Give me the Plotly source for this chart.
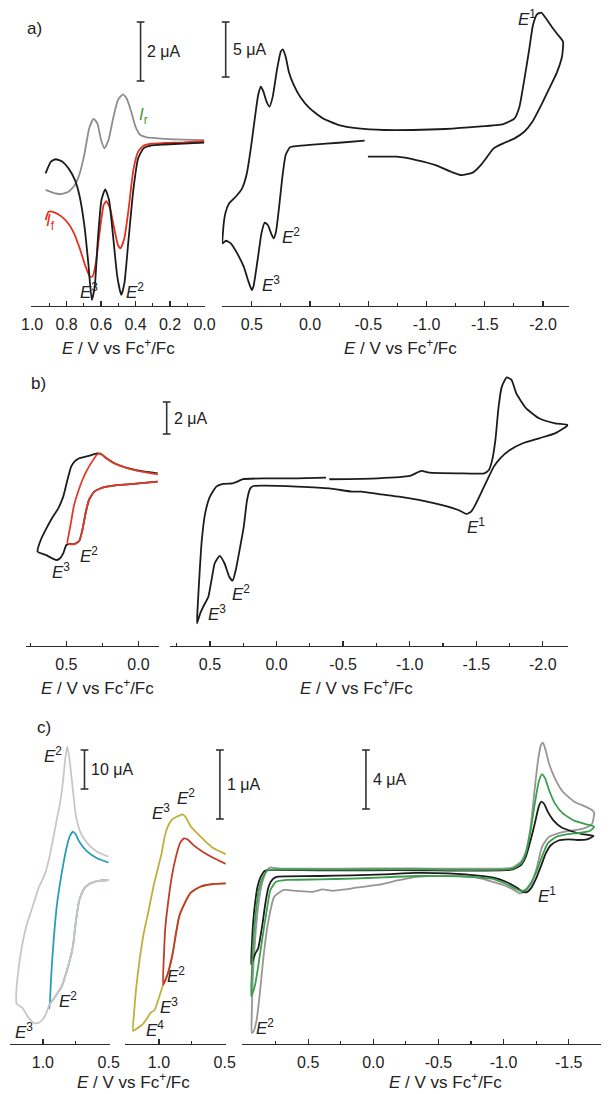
import plotly.graph_objects as go

W, H = 611, 1094
FONT = "Liberation Sans, Arial, Helvetica, sans-serif"

# ------------------------------------------------------------------ data
# Panel a, left (DPV): potential E (V vs Fc+/Fc), current I (uA)
aL_E_gray = [0.922, 0.881, 0.835, 0.789, 0.752, 0.724, 0.696, 0.669, 0.644, 0.622, 0.600, 0.581,
             0.557, 0.530, 0.502, 0.474, 0.452, 0.428, 0.400, 0.372, 0.335, 0.270, 0.159, 0.002]
aL_I_gray = [-1.59, -1.68, -1.73, -1.65, -1.42, -1.03, -0.35, 0.50, 0.82, 0.67, 0.10, -0.18,
             0.10, 0.84, 1.46, 1.65, 1.51, 1.12, 0.55, 0.27, 0.19, 0.16, 0.12, 0.10]
aL_E_black = [0.922, 0.891, 0.863, 0.826, 0.789, 0.752, 0.724, 0.696, 0.674, 0.654, 0.637, 0.619, 0.598,
              0.576, 0.554, 0.530, 0.506, 0.483, 0.465, 0.441, 0.413, 0.385, 0.354, 0.307, 0.233, 0.122, 0.002]
aL_I_black = [-1.03, -0.63, -0.55, -0.63, -0.86, -1.25, -1.82, -2.84, -4.08, -5.32, -4.87, -3.29, -1.93,
              -1.57, -1.93, -3.18, -4.53, -5.15, -4.76, -3.29, -1.59, -0.52, -0.18, -0.08, -0.05, -0.02, 0.01]
aL_E_red = [0.922, 0.904, 0.872, 0.835, 0.798, 0.761, 0.724, 0.693, 0.665, 0.650, 0.631, 0.607, 0.585,
            0.570, 0.548, 0.526, 0.502, 0.487, 0.465, 0.441, 0.413, 0.385, 0.354, 0.307, 0.233, 0.122, 0.002]
aL_I_red = [-2.61, -2.33, -2.35, -2.47, -2.67, -3.01, -3.57, -4.14, -4.53, -4.53, -4.08, -2.95, -2.10,
            -1.97, -2.21, -2.84, -3.46, -3.57, -3.23, -2.27, -0.92, -0.29, -0.09, -0.02, 0.00, 0.02, 0.06]

# Panel a, right (CV)
aR_E = [-0.469, -0.248, -0.026, 0.112, 0.173, 0.209, 0.237, 0.265, 0.292, 0.312,
        0.334, 0.362, 0.389, 0.417, 0.450, 0.486, 0.500, 0.528, 0.569, 0.625,
        0.680, 0.722, 0.749, 0.746, 0.727, 0.694, 0.638, 0.583, 0.542, 0.506,
        0.472, 0.445, 0.422, 0.400, 0.373, 0.348, 0.320, 0.284, 0.251, 0.234,
        0.209, 0.182, 0.140, 0.085, 0.002, -0.109, -0.248, -0.414, -0.635, -0.884,
        -1.161, -1.438, -1.659, -1.756, -1.798, -1.839, -1.881, -1.914, -1.950, -1.986,
        -2.025, -2.075, -2.130, -2.172, -2.163, -2.116, -2.047, -1.978, -1.909, -1.839,
        -1.756, -1.659, -1.576, -1.521, -1.466, -1.396, -1.300, -1.216, -1.078, -0.912,
        -0.746, -0.497]
aR_I = [0.55, 0.36, 0.18, 0.06, -0.06, -0.76, -2.73, -5.45, -7.73, -8.33,
        -7.88, -7.12, -6.91, -7.88, -10.30, -12.73, -13.03, -12.27, -10.91, -9.70,
        -8.79, -8.55, -8.79, -7.58, -6.06, -5.15, -4.55, -3.79, -2.42, 0.0,
        2.73, 4.70, 5.45, 5.00, 4.09, 3.64, 4.55, 6.97, 8.64, 8.85,
        8.18, 6.82, 5.61, 4.55, 3.48, 2.58, 1.97, 1.67, 1.52, 1.52,
        1.61, 1.82, 2.06, 2.58, 3.64, 6.06, 8.79, 11.06, 12.06, 12.18,
        11.67, 10.91, 10.15, 9.55, 8.18, 6.67, 5.15, 3.64, 2.27, 1.36,
        0.76, 0.30, -0.15, -0.91, -1.67, -2.36, -2.58, -2.30, -1.67, -1.21,
        -0.91, -0.91]

# Panel b, left
bL_E_black = [-0.133, 0.0, 0.133, 0.244, 0.307, 0.344, 0.367, 0.389, 0.411, 0.444, 0.478, 0.5,
              0.522, 0.544, 0.567, 0.6, 0.644, 0.7, 0.678, 0.644, 0.6, 0.556, 0.522, 0.493,
              0.467, 0.444, 0.411, 0.367, 0.322, 0.284, 0.256, 0.222, 0.156, 0.067, -0.044, -0.133]
bL_I_black = [-0.52, -0.63, -0.73, -0.88, -1.15, -1.67, -2.50, -3.54, -4.23, -4.42, -4.42, -4.48,
              -5.00, -5.31, -5.42, -5.31, -5.10, -4.90, -4.17, -3.54, -2.81, -2.19, -1.46, -0.42,
              0.42, 0.73, 0.94, 1.04, 1.15, 1.25, 1.19, 0.94, 0.58, 0.31, 0.10, 0.0]
bL_E_red = [-0.133, 0.0, 0.133, 0.244, 0.307, 0.344, 0.367, 0.389, 0.411, 0.444, 0.478, 0.493, 0.482,
            0.467, 0.449, 0.422, 0.389, 0.356, 0.322, 0.289, 0.267, 0.233, 0.178, 0.089, -0.022, -0.133]
bL_I_red = [-0.52, -0.63, -0.73, -0.88, -1.15, -1.67, -2.50, -3.54, -4.23, -4.42, -4.42, -4.38, -3.75,
            -3.02, -2.08, -1.25, -0.42, 0.21, 0.73, 1.15, 1.25, 1.0, 0.67, 0.35, 0.10, -0.06]

# Panel b, right
bR_E = [-0.396, -0.760, -1.002, -1.087, -1.147, -1.365, -1.559, -1.595, -1.620, -1.644,
        -1.668, -1.692, -1.729, -1.765, -1.801, -1.874, -1.971, -2.092, -2.189, -2.092,
        -1.971, -1.850, -1.753, -1.680, -1.632, -1.583, -1.547, -1.499, -1.462, -1.426,
        -1.365, -1.244, -1.002, -0.760, -0.639, -0.566, -0.396, -0.154, 0.088, 0.173,
        0.197, 0.221, 0.246, 0.282, 0.306, 0.330, 0.355, 0.391, 0.427, 0.464,
        0.488, 0.512, 0.544, 0.573, 0.597, 0.592, 0.578, 0.561, 0.536, 0.5,
        0.452, 0.403, 0.330, 0.294, 0.258, 0.088, -0.154, -0.372]
bR_I = [-0.06, 0.0, 0.15, 0.46, 0.35, 0.31, 0.31, 0.52, 1.15, 2.40,
        4.48, 5.73, 6.31, 6.15, 5.31, 4.38, 3.75, 3.44, 3.33, 2.81,
        2.50, 2.19, 1.77, 1.25, 0.73, -0.10, -0.73, -1.56, -2.08, -2.23,
        -1.98, -1.67, -1.25, -0.98, -0.83, -0.83, -0.63, -0.52, -0.46, -0.48,
        -0.63, -1.35, -3.02, -4.69, -5.73, -6.40, -6.15, -5.31, -4.85, -5.31,
        -6.35, -7.40, -7.92, -8.44, -9.06, -8.02, -5.94, -3.85, -2.19, -1.15,
        -0.52, -0.35, -0.31, -0.21, -0.06, 0.0, 0.0, 0.04]

# Panel c, left
cL_E_gray = [0.502, 0.564, 0.637, 0.686, 0.723, 0.748, 0.772, 0.809, 0.858, 0.907, 0.951, 0.980,
             1.005, 1.029, 1.066, 1.115, 1.152, 1.201, 1.201, 1.189, 1.164, 1.127, 1.078, 1.029,
             0.993, 0.968, 0.944, 0.919, 0.895, 0.870, 0.846, 0.828, 0.814, 0.797, 0.772, 0.748,
             0.711, 0.662, 0.588, 0.502]
cL_I_gray = [0.0, -0.17, -0.85, -2.14, -5.13, -10.26, -17.09, -22.22, -27.35, -29.91, -32.05, -34.62,
             -35.90, -36.58, -36.75, -35.04, -32.91, -31.62, -28.21, -23.93, -17.95, -11.97, -6.84, -1.71,
             0.85, 3.42, 6.84, 11.11, 15.38, 19.66, 25.64, 31.62, 34.19, 30.77, 23.08, 16.24,
             11.97, 9.40, 7.26, 5.98]
cL_E_teal = [0.502, 0.564, 0.637, 0.686, 0.723, 0.748, 0.772, 0.809, 0.858, 0.907, 0.951,
             0.949, 0.941, 0.931, 0.914, 0.895, 0.870, 0.846, 0.821, 0.797, 0.772, 0.752, 0.723,
             0.662, 0.588, 0.502]
cL_I_teal = [0.0, -0.17, -0.85, -2.14, -5.13, -10.26, -17.09, -22.22, -27.35, -29.91, -32.05,
             -32.91, -27.35, -21.37, -13.68, -6.84, -0.85, 3.85, 8.12, 11.11, 12.39, 11.79, 9.83,
             7.26, 5.56, 4.44]

# Panel c, middle
cM_E_olive = [0.490, 0.588, 0.686, 0.760, 0.809, 0.846, 0.870, 0.895, 0.931, 0.968, 1.005, 1.034,
              1.066, 1.091, 1.127, 1.164, 1.196, 1.189, 1.172, 1.147, 1.115, 1.078, 1.042, 1.005,
              0.980, 0.956, 0.931, 0.902, 0.870, 0.846, 0.821, 0.797, 0.760, 0.686, 0.588, 0.490]
cM_I_olive = [0.0, -0.01, -0.05, -0.14, -0.31, -0.48, -0.72, -1.01, -1.30, -1.47, -1.69, -1.84,
              -1.88, -1.96, -2.05, -2.10, -2.14, -1.88, -1.50, -1.11, -0.72, -0.39, -0.05, 0.24,
              0.43, 0.68, 0.83, 0.92, 0.96, 0.98, 1.00, 0.96, 0.83, 0.68, 0.51, 0.42]
cM_E_red = [0.490, 0.588, 0.686, 0.760, 0.809, 0.846, 0.870, 0.895, 0.931, 0.968,
            0.961, 0.951, 0.931, 0.902, 0.870, 0.838, 0.809, 0.779, 0.735, 0.662, 0.588, 0.490]
cM_I_red = [0.0, -0.01, -0.05, -0.14, -0.31, -0.48, -0.72, -1.01, -1.30, -1.47,
            -1.01, -0.63, -0.29, 0.10, 0.39, 0.59, 0.65, 0.63, 0.55, 0.45, 0.37, 0.28]

# Panel c, right
cR_E_gray = [-0.329, -0.577, -0.824, -1.022, -1.072, -1.134, -1.171, -1.208, -1.238, -1.265, -1.287,
             -1.302, -1.319, -1.349, -1.394, -1.455, -1.542, -1.629, -1.678, -1.696,
             -1.678, -1.617, -1.517, -1.418, -1.344, -1.295, -1.257, -1.215, -1.171, -1.126, -1.072,
             -0.998, -0.923, -0.824, -0.700, -0.500, -0.329, -0.205, -0.032, 0.116, 0.215, 0.314,
             0.389, 0.463, 0.587, 0.686, 0.760, 0.809, 0.846, 0.871, 0.896, 0.921, 0.933,
             0.933, 0.926, 0.908, 0.884, 0.854, 0.822, 0.790, 0.735, 0.413, 0.042, -0.329]
cR_I_gray = [0.22, 0.20, 0.20, 0.22, 0.29, 0.68, 1.36, 3.05, 5.54, 7.57, 8.59,
             8.75, 8.36, 7.34, 6.33, 5.42, 4.75, 4.41, 4.18, 4.00,
             3.23, 2.94, 2.78, 2.60, 2.33, 1.69, 0.34, -0.79, -1.29, -1.47, -1.20,
             -0.90, -0.70, -0.45, -0.30, -0.28, -0.35, -0.56, -0.90, -1.06, -1.20, -1.29,
             -1.20, -1.36, -1.30, -1.24, -1.69, -3.50, -5.99, -8.25, -10.06, -10.85, -10.92,
             -9.60, -7.34, -4.63, -2.37, -0.79, 0.0, 0.29, 0.23, 0.20, 0.22, 0.22]
cR_E_black = [-0.379, -0.577, -0.824, -1.022, -1.072, -1.134, -1.171, -1.208, -1.240, -1.270, -1.290,
              -1.312, -1.339, -1.381, -1.443, -1.517, -1.604, -1.691,
              -1.641, -1.567, -1.493, -1.418, -1.364, -1.324, -1.290, -1.250, -1.210, -1.176, -1.146,
              -1.097, -1.022, -0.923, -0.824, -0.577, -0.329, -0.082, 0.166, 0.413, 0.661,
              0.735, 0.772, 0.804, 0.829, 0.854, 0.884, 0.908, 0.928, 0.938,
              0.933, 0.923, 0.908, 0.889, 0.864, 0.834, 0.797, 0.735, 0.413, 0.042, -0.379]
cR_I_black = [0.10, 0.08, 0.08, 0.11, 0.16, 0.45, 1.02, 2.15, 3.28, 4.41, 4.75,
              4.59, 4.07, 3.50, 3.01, 2.76, 2.55, 2.42,
              2.19, 2.15, 2.19, 2.10, 1.81, 1.24, 0.45, -0.45, -1.13, -1.40, -1.36,
              -1.06, -0.70, -0.40, -0.28, -0.12, -0.08, -0.18, -0.25, -0.29, -0.32,
              -0.34, -0.50, -1.02, -2.15, -3.73, -5.20, -5.58, -6.10, -6.28,
              -5.08, -3.50, -2.15, -1.02, -0.34, 0.05, 0.12, 0.12, 0.10, 0.10, 0.10]
cR_E_green = [-0.379, -0.577, -0.824, -1.022, -1.072, -1.134, -1.171, -1.208, -1.240, -1.270, -1.295,
              -1.319, -1.349, -1.394, -1.455, -1.542, -1.629, -1.696,
              -1.666, -1.592, -1.493, -1.406, -1.339, -1.295, -1.257, -1.215, -1.171, -1.134, -1.072,
              -0.998, -0.923, -0.824, -0.577, -0.329, -0.082, 0.166, 0.413, 0.661,
              0.747, 0.790, 0.822, 0.854, 0.884, 0.908, 0.928, 0.938,
              0.933, 0.921, 0.903, 0.879, 0.846, 0.809, 0.760, 0.413, 0.042, -0.379]
cR_I_green = [0.16, 0.12, 0.12, 0.16, 0.23, 0.56, 1.24, 2.82, 4.63, 6.10, 6.60,
              6.33, 5.54, 4.63, 3.95, 3.46, 3.23, 3.05,
              2.78, 2.64, 2.55, 2.37, 1.92, 1.02, 0.11, -0.68, -1.20, -1.31, -1.06,
              -0.75, -0.50, -0.40, -0.30, -0.29, -0.38, -0.47, -0.52, -0.56,
              -0.68, -1.24, -2.82, -4.63, -6.44, -7.68, -8.25, -8.43,
              -6.89, -4.63, -2.82, -1.24, -0.34, 0.11, 0.16, 0.14, 0.15, 0.16]

# Tick labels
aL_ticks = [1.0, 0.8, 0.6, 0.4, 0.2, 0.0]
aL_ticklabels = ["1.0", "0.8", "0.6", "0.4", "0.2", "0.0"]
aR_ticks = [0.5, 0.0, -0.5, -1.0, -1.5, -2.0]
aR_ticklabels = ["0.5", "0.0", "-0.5", "-1.0", "-1.5", "-2.0"]
bL_ticks = [0.5, 0.0]
bL_ticklabels = ["0.5", "0.0"]
bR_ticks = [0.5, 0.0, -0.5, -1.0, -1.5, -2.0]
bR_ticklabels = ["0.5", "0.0", "-0.5", "-1.0", "-1.5", "-2.0"]
cL_ticks = [1.0, 0.5]
cL_ticklabels = ["1.0", "0.5"]
cM_ticks = [1.0, 0.5]
cM_ticklabels = ["1.0", "0.5"]
cR_ticks = [0.5, 0.0, -0.5, -1.0, -1.5]
cR_ticklabels = ["0.5", "0.0", "-0.5", "-1.0", "-1.5"]

# Scale bars (uA) and their labels
scale_values = [2, 5, 2, 10, 1, 4]
scale_labels = ["2 μA", "5 μA", "2 μA", "10 μA", "1 μA", "4 μA"]

# ------------------------------------------------------------------ layout (pixels)
# x0, x1: axis extent; rng: potential range; ay: axis line y; p0: pixel of zero current; k: px per uA
PANELS = [
    dict(x0=22, x1=202, rng=(1.005, -0.005), ay=306, p0=143.0, k=29.5,
         tv=aL_ticks, tt=aL_ticklabels, minor=0.1),
    dict(x0=219, x1=578, rng=(0.757, -2.224), ay=306, p0=146.7, k=11.0,
         tv=aR_ticks, tt=aR_ticklabels, minor=0.25),
    dict(x0=17, x1=154, rng=(0.777, -0.142), ay=646, p0=473.3, k=16.0,
         tv=bL_ticks, tt=bL_ticklabels, minor=0.25),
    dict(x0=165, x1=577, rng=(0.803, -2.19), ay=646, p0=478.3, k=16.0,
         tv=bR_ticks, tt=bR_ticklabels, minor=0.25),
    dict(x0=0, x1=103, rng=(1.25, 0.4926), ay=1044, p0=880.0, k=3.9,
         tv=cL_ticks, tt=cL_ticklabels, minor=0.25),
    dict(x0=119, x1=223, rng=(1.257, 0.4926), ay=1044, p0=883.3, k=69.0,
         tv=cM_ticks, tt=cM_ticklabels, minor=0.25),
    dict(x0=240, x1=611, rng=(1.007, -1.748), ay=1044, p0=871.7, k=14.75,
         tv=cR_ticks, tt=cR_ticklabels, minor=0.25),
]

BLACK = "#1c1c1c"
AXC = "#2a2a2a"
LW = 1.8


def ref(i):
    return ("x" if i == 1 else f"x{i}"), ("y" if i == 1 else f"y{i}")


fig = go.Figure()

CURVES = [
    (1, aL_E_gray, aL_I_gray, "#8e8e8e"),
    (1, aL_E_red, aL_I_red, "#e2311f"),
    (1, aL_E_black, aL_I_black, BLACK),
    (2, aR_E, aR_I, BLACK),
    (3, bL_E_black, bL_I_black, BLACK),
    (3, bL_E_red, bL_I_red, "#e23a2a"),
    (4, bR_E, bR_I, BLACK),
    (5, cL_E_teal, cL_I_teal, "#2a9fb4"),
    (5, cL_E_gray, cL_I_gray, "#cdc5c5"),
    (6, cM_E_olive, cM_I_olive, "#beb13a"),
    (6, cM_E_red, cM_I_red, "#c23a28"),
    (7, cR_E_gray, cR_I_gray, "#9a9494"),
    (7, cR_E_black, cR_I_black, BLACK),
    (7, cR_E_green, cR_I_green, "#3b9e4e"),
]
for i, xs, ys, col in CURVES:
    xr, yr = ref(i)
    fig.add_trace(go.Scatter(x=xs, y=ys, xaxis=xr, yaxis=yr, mode="lines",
                             line=dict(color=col, width=LW, shape="spline", smoothing=0.5),
                             hoverinfo="skip", showlegend=False))

layout = dict(width=W, height=H, margin=dict(l=0, r=0, t=0, b=0),
              paper_bgcolor="white", plot_bgcolor="rgba(0,0,0,0)",
              font=dict(family=FONT, color="#222"), showlegend=False)

for i, p in enumerate(PANELS, start=1):
    xk = "xaxis" if i == 1 else f"xaxis{i}"
    yk = "yaxis" if i == 1 else f"yaxis{i}"
    xr, yr = ref(i)
    layout[xk] = dict(domain=[p["x0"] / W, p["x1"] / W], range=list(p["rng"]),
                      anchor="free", position=1 - p["ay"] / H,
                      showline=True, linecolor=AXC, linewidth=1.4,
                      ticks="inside", ticklen=5, tickwidth=1.3, tickcolor=AXC,
                      tickmode="array", tickvals=p["tv"], ticktext=p["tt"],
                      tickfont=dict(size=16, color="#222", family=FONT),
                      ticklabelstandoff=3,
                      showgrid=False, zeroline=False, fixedrange=True,
                      minor=dict(ticks="inside", ticklen=3, tickwidth=1.2, tickcolor=AXC,
                                 dtick=p["minor"], tick0=0, showgrid=False))
    layout[yk] = dict(domain=[0, 1], range=[(p["p0"] - H) / p["k"], p["p0"] / p["k"]],
                      visible=False, anchor=xr, showgrid=False, zeroline=False, fixedrange=True)

# pixel overlay x-axis used for the scale bars
layout["xaxis8"] = dict(domain=[0, 1], range=[0, W], visible=False, anchor="free", position=0,
                        fixedrange=True)

# scale bars: panel index, x pixel, top pixel
SB_POS = [(1, 135, 22), (2, 223, 22), (4, 162, 402), (5, 77, 750), (6, 217, 750), (7, 368, 750)]
annotations = []
for (pi, xb, ytop), val, lab in zip(SB_POS, scale_values, scale_labels):
    p = PANELS[pi - 1]
    top = (p["p0"] - ytop) / p["k"]
    bot = top - val
    _, yr = ref(pi)
    fig.add_trace(go.Scatter(x=[xb - 4, xb + 4, None, xb, xb, None, xb - 4, xb + 4],
                             y=[top, top, None, top, bot, None, bot, bot],
                             xaxis="x8", yaxis=yr, mode="lines",
                             line=dict(color="#333", width=1.6), hoverinfo="skip",
                             showlegend=False))
    ymid = ytop + val * p["k"] / 2
    annotations.append(dict(text=lab, x=(xb + 5) / W, y=1 - ymid / H, xref="paper", yref="paper",
                            xanchor="left", yanchor="middle", showarrow=False,
                            font=dict(size=16, family=FONT, color="#222")))

TITLE = "<i>E</i> / V vs Fc<sup>+</sup>/Fc"
TS = 17   # axis title size
ES = 17   # peak label size
TEXTS = [
    ("a)", 25, 28, "#222", 17), ("b)", 29, 383, "#222", 17), ("c)", 35, 727, "#222", 17),
    (TITLE, 112, 347, "#222", TS), (TITLE, 404, 347, "#222", TS),
    (TITLE, 90, 687, "#222", TS), (TITLE, 358, 687, "#222", TS),
    (TITLE, 128, 1081, "#222", TS), (TITLE, 450, 1081, "#222", TS),
    ("<i>I</i><sub>r</sub>", 138, 116, "#4a9a3a", ES), ("<i>I</i><sub>f</sub>", 42, 222, "#e2311f", ES),
    ("<i>E</i><sup>3</sup>", 82, 291, "#222", ES), ("<i>E</i><sup>2</sup>", 129, 291, "#222", ES),
    ("<i>E</i><sup>1</sup>", 534, 18, "#222", ES), ("<i>E</i><sup>2</sup>", 290, 236, "#222", ES),
    ("<i>E</i><sup>3</sup>", 270, 284, "#222", ES),
    ("<i>E</i><sup>3</sup>", 53, 571, "#222", ES), ("<i>E</i><sup>2</sup>", 82, 555, "#222", ES),
    ("<i>E</i><sup>1</sup>", 482, 526, "#222", ES), ("<i>E</i><sup>2</sup>", 239, 593, "#222", ES),
    ("<i>E</i><sup>3</sup>", 214, 613, "#222", ES),
    ("<i>E</i><sup>2</sup>", 44, 755, "#222", ES), ("<i>E</i><sup>2</sup>", 60, 1000, "#222", ES),
    ("<i>E</i><sup>3</sup>", 14, 1031, "#222", ES),
    ("<i>E</i><sup>3</sup>", 156, 812, "#222", ES), ("<i>E</i><sup>2</sup>", 182, 797, "#222", ES),
    ("<i>E</i><sup>2</sup>", 172, 975, "#222", ES), ("<i>E</i><sup>3</sup>", 164, 1006, "#222", ES),
    ("<i>E</i><sup>4</sup>", 150, 1029, "#222", ES),
    ("<i>E</i><sup>1</sup>", 555, 895, "#222", ES), ("<i>E</i><sup>2</sup>", 264, 1027, "#222", ES),
]
for txt, x, y, col, sz in TEXTS:
    annotations.append(dict(text=txt, x=x / W, y=1 - y / H, xref="paper", yref="paper",
                            xanchor="center", yanchor="middle", showarrow=False,
                            font=dict(size=sz, family=FONT, color=col)))
layout["annotations"] = annotations

fig.update_layout(**layout)
fig.write_html("out.html",
               config={"displayModeBar": False, "staticPlot": True},
               post_script="document.body.style.margin='0px';document.body.style.overflow='hidden';")
